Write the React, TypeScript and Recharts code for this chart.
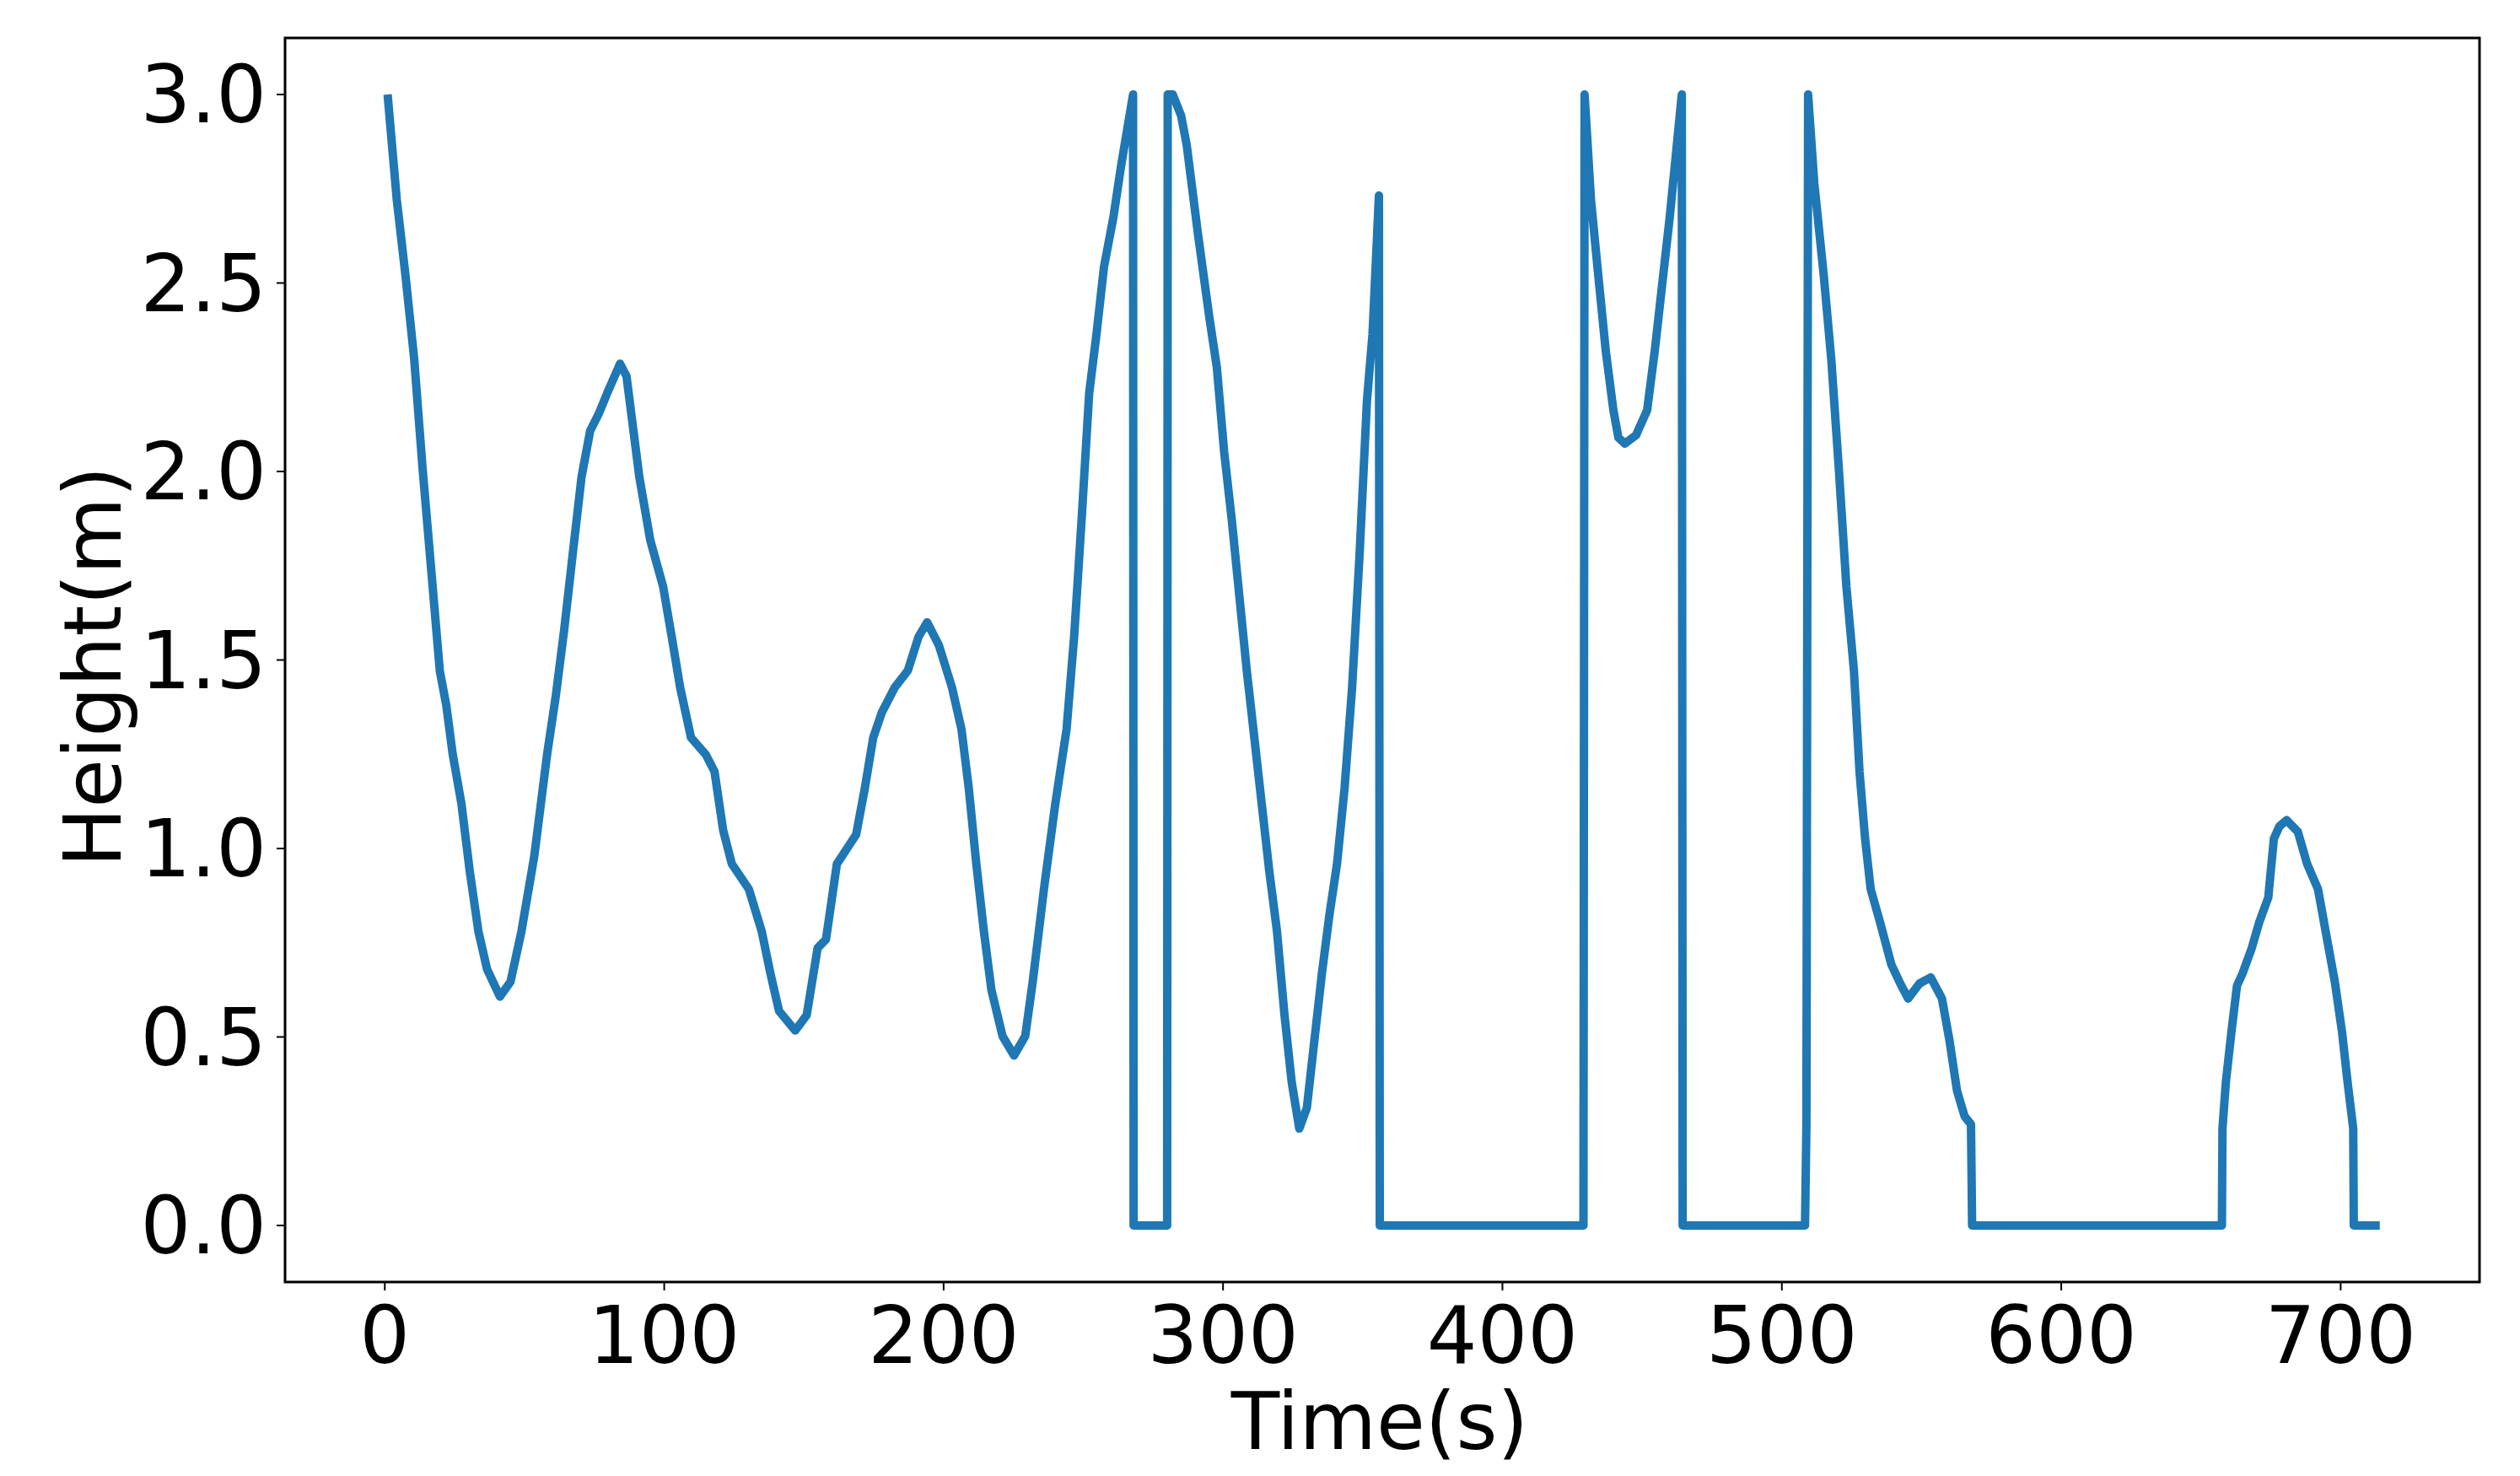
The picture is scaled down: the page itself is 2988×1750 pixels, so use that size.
import React from "react";
import {
  LineChart,
  Line,
  XAxis,
  YAxis,
  Label,
  ReferenceArea,
} from "recharts";

// time (s), in order; repeated times are the vertical jumps
const TIME = [
  1, 4.3, 7.4, 10.5, 13.5, 16.6, 19.7, 22, 24.3, 27.4, 30.4, 33.5, 36.6, 41.2,
  45, 48.9, 53.5, 58.1, 61.2, 64.2, 67.3, 70.4, 73.5, 76.5, 79.6, 84.2, 86.5,
  88.8, 91.1, 95, 99.6, 102.7, 105.7, 109.6, 114.9, 118, 121.1, 124.2, 130.3,
  134.9, 138, 141.1, 146.9, 151, 154.9, 157.9, 161.8, 168.7, 171.8, 174.8,
  177.9, 182.5, 187.2, 191, 194.1, 198.3, 203, 206.4, 209, 211.7, 214.4, 217.1,
  221.1, 225.2, 229.2, 231.9, 235.9, 239.9, 244, 246.7, 249.4, 252.1, 254.7,
  257.4, 260.8, 263.5, 267.8, 268, 280, 280.2, 282, 285, 287, 291, 295.1, 297.8,
  300.4, 303.1, 305.8, 308.5, 311.2, 313.9, 316.6, 319.3, 322, 324.6, 327.3, 330,
  332.7, 335.4, 338.1, 340.8, 343.5, 346.2, 348.9, 351.5, 353.5, 355.8, 356.1,
  429, 429.4, 431.7, 434.3, 437, 439.7, 441.5, 443.8, 447.8, 451.8, 454.5,
  457.2, 459.9, 464.2, 464.5, 508.3, 508.8, 509.4, 511.6, 515, 517.7, 520.4,
  523.1, 525.8, 527.8, 529.8, 531.8, 535.2, 539.2, 542.5, 545.2, 549.3, 553.3,
  557.3, 560, 562.7, 565.4, 567.7, 568.1, 657.5, 657.7, 658.9, 660.9, 662.9,
  664.9, 668.2, 670.8, 674.1, 676.1, 678.1, 680.7, 684.7, 688, 691.9, 694.6,
  697.9, 700.5, 702.5, 704.5, 704.7, 714,
];

// height (m) at each time above
const HEIGHT = [
  3.0, 2.72, 2.52, 2.3, 2.01, 1.74, 1.47, 1.38, 1.25, 1.12, 0.94, 0.78, 0.68,
  0.607, 0.647, 0.78, 0.98, 1.25, 1.405, 1.58, 1.784, 1.985, 2.108, 2.152,
  2.208, 2.286, 2.253, 2.119, 1.985, 1.818, 1.695, 1.561, 1.427, 1.294, 1.249,
  1.204, 1.048, 0.959, 0.892, 0.78, 0.669, 0.569, 0.517, 0.558, 0.736, 0.759,
  0.959, 1.037, 1.16, 1.294, 1.361, 1.427, 1.472, 1.561, 1.6, 1.539, 1.427,
  1.316, 1.16, 0.959, 0.781, 0.625, 0.502, 0.451, 0.502, 0.647, 0.892, 1.115,
  1.316, 1.561, 1.874, 2.208, 2.364, 2.543, 2.676, 2.81, 3.0, 0, 0, 3.0, 3.0,
  2.944, 2.866, 2.632, 2.409, 2.275, 2.052, 1.874, 1.673, 1.472, 1.294, 1.115,
  0.937, 0.781, 0.558, 0.379, 0.257, 0.312, 0.491, 0.669, 0.825, 0.959, 1.16,
  1.427, 1.784, 2.186, 2.364, 2.732, 0, 0, 3.0, 2.72, 2.52, 2.319, 2.163, 2.09,
  2.074, 2.096, 2.163, 2.319, 2.498, 2.676, 3.0, 0, 0, 0.27, 3.0, 2.766, 2.52,
  2.297, 2.007, 1.695, 1.472, 1.204, 1.026, 0.892, 0.803, 0.692, 0.64, 0.602,
  0.642, 0.658, 0.602, 0.491, 0.357, 0.29, 0.268, 0, 0, 0.257, 0.379, 0.513,
  0.636, 0.669, 0.736, 0.803, 0.87, 1.026, 1.059, 1.075, 1.044, 0.959, 0.892,
  0.781, 0.647, 0.513, 0.379, 0.257, 0, 0,
];

const X_TICKS = [0, 100, 200, 300, 400, 500, 600, 700];
const Y_TICKS = [0, 0.5, 1.0, 1.5, 2.0, 2.5, 3.0];

const X_DOMAIN: [number, number] = [-35.7, 749.7];
const Y_DOMAIN: [number, number] = [-0.15, 3.15];

const data = TIME.map((t, i) => ({ t, h: HEIGHT[i] }));

const FONT = "'DejaVu Sans', sans-serif";
const FONT_SIZE = 94;

function YTitle(props: any) {
  const vb = props.viewBox || { x: 0, y: 45, width: 338, height: 1475 };
  const x = vb.x + 143;
  const y = vb.y + vb.height / 2 + 8;
  return (
    <text
      x={x}
      y={y}
      transform={`rotate(-90, ${x}, ${y})`}
      textAnchor="middle"
      fontSize={FONT_SIZE}
      fontFamily={FONT}
      fill="#000"
    >
      Height(m)
    </text>
  );
}

function XTitle(props: any) {
  const vb = props.viewBox || { x: 338, y: 1520, width: 2602, height: 230 };
  const x = vb.x + vb.width / 2 - 3;
  const y = vb.y + 198;
  return (
    <text
      x={x}
      y={y}
      textAnchor="middle"
      fontSize={FONT_SIZE}
      fontFamily={FONT}
      fill="#000"
    >
      Time(s)
    </text>
  );
}

export default function App() {
  return (
    <div
      style={{
        position: "absolute",
        left: 0,
        top: 0,
        width: 2988,
        height: 1750,
        background: "#fff",
      }}
    >
      <LineChart
        width={2988}
        height={1750}
        data={data}
        margin={{ top: 45, right: 48, bottom: 0, left: 0 }}
      >
        <XAxis
          dataKey="t"
          type="number"
          domain={X_DOMAIN}
          ticks={X_TICKS}
          interval={0}
          allowDataOverflow
          height={230}
          axisLine={false}
          tickSize={10}
          tickMargin={19}
          tickLine={{ stroke: "#000", strokeWidth: 2 }}
          tick={{ fontSize: FONT_SIZE, fill: "#000", fontFamily: FONT }}
        >
          <Label content={XTitle} />
        </XAxis>
        <YAxis
          type="number"
          domain={Y_DOMAIN}
          ticks={Y_TICKS}
          interval={0}
          allowDataOverflow
          width={338}
          axisLine={false}
          tickSize={10}
          tickMargin={12}
          tickLine={{ stroke: "#000", strokeWidth: 2 }}
          tick={{ fontSize: FONT_SIZE, fill: "#000", fontFamily: FONT }}
          tickFormatter={(v: number) => v.toFixed(1)}
        >
          <Label content={YTitle} />
        </YAxis>
        <ReferenceArea
          x1={X_DOMAIN[0]}
          x2={X_DOMAIN[1]}
          y1={Y_DOMAIN[0]}
          y2={Y_DOMAIN[1]}
          fill="none"
          stroke="#000"
          strokeWidth={3}
          ifOverflow="visible"
        />
        <Line
          type="linear"
          dataKey="h"
          stroke="#1f77b4"
          strokeWidth={10}
          strokeLinejoin="round"
          dot={false}
          activeDot={false}
          isAnimationActive={false}
        />
      </LineChart>
    </div>
  );
}
